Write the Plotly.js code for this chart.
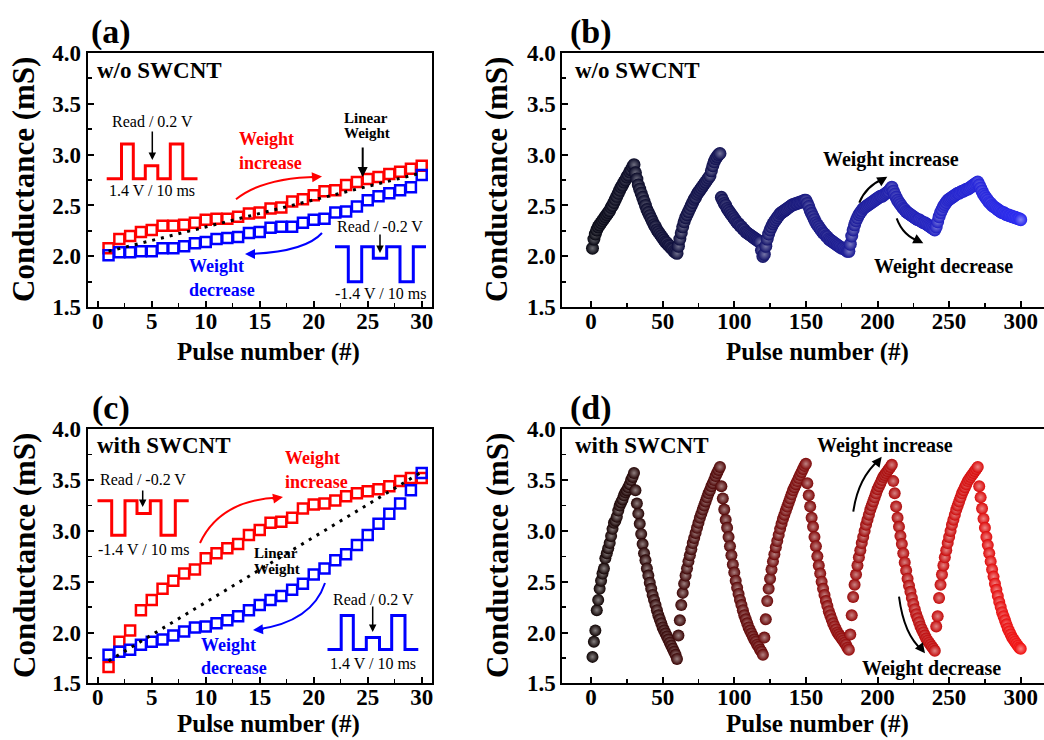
<!DOCTYPE html>
<html><head><meta charset="utf-8">
<script src="https://cdn.plot.ly/plotly-3.0.1.min.js"></script>
<style>html,body{margin:0;padding:0;overflow:hidden;background:#fff}#chart{width:1070px;height:740px}</style>
</head><body><div id="chart"></div><script>
// ---------- DATA ----------
const pulseA = [1,2,3,4,5,6,7,8,9,10,11,12,13,14,15,16,17,18,19,20,21,22,23,24,25,26,27,28,29,30];
const aIncrease = [2.08,2.17,2.20,2.24,2.26,2.30,2.30,2.31,2.33,2.36,2.37,2.37,2.39,2.42,2.43,2.47,2.48,2.54,2.56,2.60,2.64,2.65,2.70,2.73,2.76,2.78,2.81,2.83,2.86,2.89];
const aDecrease = [2.01,2.04,2.04,2.05,2.05,2.08,2.08,2.10,2.13,2.14,2.17,2.18,2.19,2.23,2.24,2.28,2.29,2.29,2.33,2.36,2.37,2.43,2.44,2.49,2.55,2.59,2.62,2.65,2.68,2.80];
const aLinearX = [1,30];
const aLinearY = [2.05,2.82];

const cIncrease = [1.66,1.91,2.02,2.22,2.32,2.43,2.51,2.58,2.62,2.73,2.78,2.83,2.87,2.96,3.01,3.08,3.09,3.13,3.22,3.26,3.27,3.30,3.34,3.37,3.39,3.41,3.44,3.49,3.52,3.52];
const cDecrease = [1.78,1.81,1.83,1.88,1.91,1.93,1.97,2.01,2.05,2.06,2.09,2.12,2.16,2.22,2.27,2.32,2.36,2.42,2.48,2.57,2.63,2.71,2.77,2.86,2.96,3.07,3.17,3.27,3.40,3.57];
const cLinearX = [1,30];
const cLinearY = [1.72,3.58];

// (b) w/o SWCNT, 5 potentiation/depression cycles (30 pulses each half)
const bInc1 = [2.08,2.17,2.22,2.26,2.29,2.31,2.33,2.35,2.37,2.39,2.41,2.43,2.45,2.48,2.50,2.53,2.56,2.59,2.62,2.65,2.68,2.70,2.73,2.75,2.78,2.80,2.83,2.85,2.88,2.90];
const bDec1 = [2.82,2.76,2.70,2.66,2.62,2.58,2.54,2.50,2.46,2.43,2.40,2.37,2.34,2.31,2.29,2.26,2.24,2.22,2.20,2.18,2.16,2.14,2.13,2.11,2.10,2.08,2.07,2.05,2.04,2.03];
const bInc2 = [2.10,2.17,2.23,2.29,2.34,2.38,2.41,2.44,2.47,2.50,2.53,2.56,2.58,2.61,2.63,2.65,2.67,2.69,2.71,2.73,2.75,2.77,2.79,2.84,2.89,2.93,2.96,2.98,3.00,3.01];
const bDec2 = [2.58,2.55,2.52,2.50,2.47,2.45,2.43,2.41,2.39,2.37,2.35,2.33,2.32,2.30,2.29,2.27,2.26,2.24,2.23,2.22,2.21,2.20,2.19,2.18,2.17,2.16,2.15,2.14,2.06,2.00];
const bInc3 = [2.02,2.10,2.17,2.22,2.26,2.29,2.32,2.34,2.36,2.38,2.40,2.42,2.43,2.44,2.45,2.46,2.47,2.48,2.49,2.50,2.51,2.51,2.52,2.52,2.53,2.53,2.54,2.54,2.55,2.55];
const bDec3 = [2.52,2.49,2.45,2.42,2.39,2.36,2.33,2.31,2.29,2.27,2.25,2.23,2.22,2.20,2.19,2.17,2.16,2.15,2.14,2.13,2.12,2.11,2.10,2.09,2.08,2.08,2.07,2.06,2.05,2.05];
const bInc4 = [2.12,2.20,2.26,2.31,2.35,2.38,2.41,2.43,2.45,2.47,2.48,2.49,2.50,2.51,2.52,2.53,2.54,2.55,2.56,2.57,2.58,2.59,2.59,2.60,2.61,2.62,2.63,2.64,2.66,2.68];
const bDec4 = [2.64,2.61,2.58,2.55,2.53,2.51,2.49,2.47,2.46,2.44,2.43,2.42,2.41,2.40,2.39,2.38,2.37,2.36,2.36,2.35,2.34,2.33,2.33,2.32,2.31,2.30,2.29,2.28,2.27,2.26];
const bInc5 = [2.29,2.34,2.39,2.43,2.46,2.49,2.51,2.53,2.55,2.56,2.57,2.58,2.59,2.60,2.61,2.62,2.62,2.63,2.64,2.64,2.65,2.66,2.66,2.67,2.68,2.69,2.70,2.71,2.72,2.73];
const bDec5 = [2.70,2.67,2.64,2.61,2.59,2.57,2.55,2.53,2.52,2.50,2.49,2.48,2.47,2.46,2.45,2.44,2.43,2.43,2.42,2.41,2.41,2.40,2.40,2.39,2.39,2.38,2.38,2.37,2.37,2.36];

// (d) with SWCNT
const dInc1 = [1.76,1.91,2.02,2.22,2.32,2.43,2.51,2.58,2.63,2.73,2.78,2.83,2.88,2.95,3.02,3.08,3.10,3.14,3.20,3.25,3.28,3.31,3.35,3.38,3.40,3.43,3.46,3.50,3.53,3.57];
const dDec1 = [3.40,3.27,3.17,3.07,2.97,2.87,2.78,2.71,2.63,2.56,2.49,2.43,2.37,2.32,2.27,2.22,2.17,2.13,2.09,2.05,2.02,1.99,1.96,1.93,1.90,1.87,1.84,1.81,1.78,1.74];
const dInc2 = [1.97,2.12,2.27,2.39,2.48,2.56,2.63,2.70,2.76,2.82,2.88,2.93,2.98,3.03,3.08,3.13,3.17,3.21,3.25,3.29,3.33,3.37,3.40,3.44,3.47,3.50,3.54,3.57,3.60,3.63];
const dDec2 = [3.44,3.32,3.21,3.11,3.03,2.94,2.85,2.76,2.67,2.59,2.51,2.44,2.38,2.32,2.27,2.22,2.17,2.13,2.09,2.05,2.02,1.99,1.96,1.93,1.91,1.88,1.86,1.83,1.81,1.78];
const dInc3 = [1.95,2.13,2.31,2.43,2.53,2.62,2.70,2.77,2.84,2.90,2.96,3.02,3.07,3.12,3.16,3.20,3.24,3.28,3.32,3.36,3.40,3.43,3.46,3.49,3.52,3.55,3.58,3.61,3.64,3.66];
const dDec3 = [3.47,3.35,3.24,3.13,3.04,2.94,2.85,2.75,2.66,2.58,2.50,2.43,2.37,2.31,2.26,2.21,2.17,2.13,2.09,2.06,2.03,2.00,1.98,1.96,1.94,1.92,1.90,1.88,1.85,1.83];
const dInc4 = [1.98,2.17,2.35,2.47,2.57,2.66,2.74,2.81,2.88,2.94,3.00,3.06,3.11,3.16,3.21,3.25,3.29,3.33,3.37,3.41,3.44,3.47,3.50,3.53,3.55,3.57,3.59,3.61,3.63,3.65];
const dDec4 = [3.49,3.37,3.24,3.13,3.04,2.95,2.87,2.78,2.69,2.61,2.53,2.46,2.40,2.34,2.28,2.23,2.18,2.14,2.10,2.06,2.03,2.00,1.97,1.94,1.92,1.90,1.88,1.86,1.84,1.82];
const dInc5 = [2.06,2.16,2.34,2.47,2.57,2.66,2.74,2.81,2.88,2.94,3.00,3.06,3.11,3.16,3.21,3.25,3.29,3.33,3.37,3.40,3.43,3.46,3.49,3.51,3.53,3.55,3.57,3.59,3.61,3.63];
const dDec5 = [3.44,3.33,3.22,3.12,3.03,2.94,2.86,2.78,2.70,2.62,2.55,2.48,2.42,2.36,2.30,2.25,2.20,2.16,2.12,2.08,2.04,2.01,1.98,1.95,1.93,1.91,1.89,1.87,1.85,1.84];

const xTicksSmall = [0,5,10,15,20,25,30];
const xTicksLarge = [0,50,100,150,200,250,300];
const yTickVals = [1.5,2.0,2.5,3.0,3.5,4.0];
const yTickText = ['1.5','2.0','2.5','3.0','3.5','4.0'];

// ---------- BUILD ----------
const bValues = [].concat(bInc1,bDec1,bInc2,bDec2,bInc3,bDec3,bInc4,bDec4,bInc5,bDec5);
const dValues = [].concat(dInc1,dDec1,dInc2,dDec2,dInc3,dDec3,dInc4,dDec4,dInc5,dDec5);
const pulseB = bValues.map((v,i)=>i+1);
const pulseD = dValues.map((v,i)=>i+1);

function grad(n, c0, c1, mixWhite){
  const out=[];
  for(let i=0;i<n;i++){
    const t=i/(n-1);
    let c=c0.map((v,k)=>v+(c1[k]-v)*t);
    if(mixWhite) c=c.map(v=>v+(255-v)*mixWhite);
    out.push('rgb('+c.map(v=>Math.round(v)).join(',')+')');
  }
  return out;
}
const bCol = grad(300,[4,4,14],[36,36,238],0);
const bHi  = grad(300,[4,4,14],[36,36,238],0.42);
const dCol = grad(300,[10,0,0],[240,10,10],0);
const dHi  = grad(300,[10,0,0],[240,10,10],0.5);

const FONT = 'Liberation Serif, Times New Roman, serif';
const sq = c => ({symbol:'square-open', size:10, color:c, line:{width:2.5, color:c}});

const traces = [
  {x:pulseA, y:aIncrease, xaxis:'x', yaxis:'y', mode:'markers', marker:sq('#ff0000')},
  {x:pulseA, y:aDecrease, xaxis:'x', yaxis:'y', mode:'markers', marker:sq('#0000ff')},
  {x:aLinearX, y:aLinearY, xaxis:'x', yaxis:'y', mode:'lines', line:{color:'#000', width:3, dash:'3px,6px'}},
  {x:pulseB, y:bValues, xaxis:'x2', yaxis:'y2', mode:'markers', marker:{symbol:'circle', size:13, color:bCol, gradient:{type:'radial', color:bHi}, line:{width:0}}},
  {x:pulseA, y:cIncrease, xaxis:'x3', yaxis:'y3', mode:'markers', marker:sq('#ff0000')},
  {x:pulseA, y:cDecrease, xaxis:'x3', yaxis:'y3', mode:'markers', marker:sq('#0000ff')},
  {x:cLinearX, y:cLinearY, xaxis:'x3', yaxis:'y3', mode:'lines', line:{color:'#000', width:3, dash:'3px,6px'}},
  {x:pulseD, y:dValues, xaxis:'x4', yaxis:'y4', mode:'markers', marker:{symbol:'circle', size:12, color:dCol, gradient:{type:'radial', color:dHi}, line:{width:0}}}
];

const W=1070, H=740;
const fx = x => x/W, fy = y => 1 - y/H;

const axBase = {
  showline:true, linewidth:2, linecolor:'#000', mirror:true,
  ticks:'inside', ticklen:6, tickwidth:2, tickcolor:'#000',
  showgrid:false, zeroline:false, fixedrange:true,
  tickfont:{family:FONT, size:23, color:'#000', weight:'bold'}
};
function xa(dom, range, vals, minorStep, anchor){
  return Object.assign({}, axBase, {domain:dom, range:range, tickmode:'array', tickvals:vals, ticktext:vals.map(String), anchor:anchor,
    ticklabelstandoff:-8,
    minor:{dtick:minorStep, tick0:0, ticks:'inside', ticklen:4, tickwidth:1.5, tickcolor:'#000', showgrid:false}});
}
function ya(dom, anchor){
  return Object.assign({}, axBase, {domain:dom, range:[1.5,4.0], tickmode:'array', tickvals:yTickVals, ticktext:yTickText, anchor:anchor,
    minor:{dtick:0.25, tick0:1.5, ticks:'inside', ticklen:4, tickwidth:1.5, tickcolor:'#000', showgrid:false}});
}
const domL = [fx(87.7), fx(432.3)], domR = [fx(562.4), fx(1063.7)];
const domT = [fy(307.3), fy(52.7)], domB = [fy(683.3), fy(429.3)];

const ann = [];
function T(text, x, y, size, opts){
  ann.push(Object.assign({xref:'paper', yref:'paper', x:fx(x), y:fy(y), text:text, showarrow:false,
    xanchor:'center', yanchor:'middle', font:{family:FONT, size:size, color:'#000'}}, opts||{}));
}
function Arrow(xt, yt, ax, ay, color, w){
  ann.push({xref:'paper', yref:'paper', x:fx(xt), y:fy(yt), ax:ax, ay:ay, text:'', showarrow:true,
    arrowhead:2, arrowsize:1, arrowwidth:w||2, arrowcolor:color||'#000', standoff:0, startstandoff:0});
}
// panel letters
T('<b>(a)</b>',111,32,34); T('<b>(b)</b>',591,32,34); T('<b>(c)</b>',111,408,34); T('<b>(d)</b>',591,408,34);
// axis titles
[[24,180],[497,180],[24,556],[497,556]].forEach(p=>T('<b>Conductance (mS)</b>',p[0],p[1],31,{textangle:-90}));
[[268,352],[817,352],[268,724],[817,724]].forEach(p=>T('<b>Pulse number (#)</b>',p[0],p[1],25));
// sample labels
T('<b>w/o SWCNT</b>',95,70,23,{xanchor:'left'}); T('<b>w/o SWCNT</b>',573,70,23,{xanchor:'left'});
T('<b>with SWCNT</b>',95,445,23,{xanchor:'left'}); T('<b>with SWCNT</b>',573,445,23,{xanchor:'left'});
const RED='#ff0000', BLUE='#0000ff';
const redF = s=>({font:{family:FONT,size:s,color:RED}, xanchor:'left'});
const blueF = s=>({font:{family:FONT,size:s,color:BLUE}, xanchor:'left'});
// (a)
T('<b>Weight</b>',237,139,18,redF(18)); T('<b>increase</b>',237,163,18,redF(18));
T('<b>Weight</b>',187,266,18,blueF(18)); T('<b>decrease</b>',187,290,18,blueF(18));
T('<b>Linear</b>',365.5,118.5,15); T('<b>Weight</b>',366.5,133,15);
Arrow(362.7,177,0,-31,'#000',2);
T('Read / 0.2 V',152,121,16); T('1.4 V / 10 ms',152,191,16);
Arrow(152.3,160,0,-30,'#000',1.5);
T('Read / -0.2 V',380,227,16); T('-1.4 V / 10 ms',380,293,16);
Arrow(380,253,0,-20,'#000',1.5);
// (c)
T('<b>Weight</b>',283,458,18,redF(18)); T('<b>increase</b>',283,482,18,redF(18));
T('<b>Weight</b>',199,645,18,blueF(18)); T('<b>decrease</b>',199,668,18,blueF(18));
T('<b>Linear</b>',252,553,15,{xanchor:'left'}); T('<b>Weight</b>',252,569,15,{xanchor:'left'});
T('Read / -0.2 V',143,479,16); T('-1.4 V / 10 ms',143.5,549,16);
Arrow(142.7,507,0,-18,'#000',1.5);
T('Read / 0.2 V',373,599,16); T('1.4 V / 10 ms',373,663,16);
Arrow(372.7,632,0,-27,'#000',1.5);
// (b), (d)
T('<b>Weight increase</b>',890.5,159,20); T('<b>Weight decrease</b>',943,266,20);
T('<b>Weight increase</b>',884.5,445,20); T('<b>Weight decrease</b>',931.5,668,20);

// shapes: pulse waveforms and curved arrows
const shapes = [];
function P(pts, color, w){
  shapes.push({type:'path', xref:'paper', yref:'paper', line:{color:color, width:w||3}, fillcolor:'rgba(0,0,0,0)',
    path: pts.map((p,i)=>(i?'L':'M')+fx(p[0]).toFixed(5)+','+fy(p[1]).toFixed(5)).join(' ')});
}
function Q(a, c, b, color, w){
  shapes.push({type:'path', xref:'paper', yref:'paper', line:{color:color, width:w||2}, fillcolor:'rgba(0,0,0,0)',
    path:'M'+fx(a[0])+','+fy(a[1])+' Q'+fx(c[0])+','+fy(c[1])+' '+fx(b[0])+','+fy(b[1])});
}
function wave(xs, base, hi, rd, color){
  P([[xs[0],base],[xs[1],base],[xs[1],hi],[xs[2],hi],[xs[2],base],[xs[3],base],[xs[3],rd],[xs[4],rd],[xs[4],base],
     [xs[5],base],[xs[5],hi],[xs[6],hi],[xs[6],base],[xs[7],base]], color, 3);
}
wave([106.7,121.5,133.3,145.3,157.8,170.3,182.8,197.5],178.7,144,165.8,RED);
wave([335,348.3,361.7,373.3,386.7,400,413.3,426],246.7,281.7,258.3,BLUE);
wave([97.5,111.7,125,137,150.3,161,175.3,188.7],500.8,535.3,513.5,RED);
wave([327.5,341.2,353.3,366.3,379.5,391.7,405,418.3],649.6,615.5,637.5,BLUE);

Q([236,199.3],[262,178],[318,176.7],RED,2); Arrow(322,176.5,-12,1,RED,2);
Q([322,233],[305,252],[249,254],BLUE,2); Arrow(245,254,12,0,BLUE,2);
Q([200,543],[220,500],[279,497.5],RED,2); Arrow(283,497,-12,2,RED,2);
Q([325,583],[312,622],[257,629.5],BLUE,2); Arrow(253,630,12,-1,BLUE,2);
Q([859.3,202.7],[866,186],[884,178.5],'#000',2); Arrow(887.3,176.7,-10,6,'#000',2);
Q([896.7,218.3],[903,236],[920,241.5],'#000',2); Arrow(923.3,243.3,-10,-5,'#000',2);
Q([853.3,511.7],[858,478],[879,460],'#000',2); Arrow(881.7,456.7,-7,9,'#000',2);
Q([899,596.7],[904,635],[922,650],'#000',2); Arrow(925,653.3,-7,-9,'#000',2);

const layout = {
  width:W, height:H, margin:{l:0,r:0,t:0,b:0}, paper_bgcolor:'#fff', plot_bgcolor:'#fff', showlegend:false,
  xaxis: xa(domL,[-0.93,30.98],xTicksSmall,2.5,'y'),
  yaxis: ya(domT,'x'),
  xaxis2: xa(domR,[-20,330],xTicksLarge,25,'y2'),
  yaxis2: ya(domT,'x2'),
  xaxis3: xa(domL,[-0.93,30.98],xTicksSmall,2.5,'y3'),
  yaxis3: ya(domB,'x3'),
  xaxis4: xa(domR,[-20,330],xTicksLarge,25,'y4'),
  yaxis4: ya(domB,'x4'),
  annotations: ann, shapes: shapes
};
Plotly.newPlot('chart', traces, layout, {staticPlot:true, displayModeBar:false});
</script></body></html>
